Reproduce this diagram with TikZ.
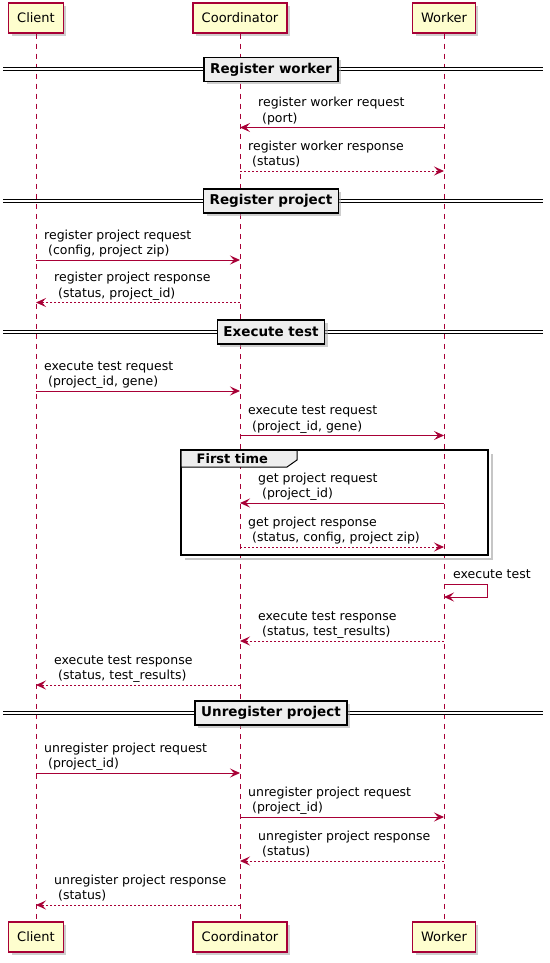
\documentclass[tikz,border=0pt]{standalone}
\usepackage{fontspec}
\setmainfont{DejaVu Sans}
\usetikzlibrary{arrows.meta, shadows}
\definecolor{umlred}{RGB}{168,0,54}
\definecolor{umlyellow}{RGB}{254,254,206}
\definecolor{umlgray}{RGB}{238,238,238}
\tikzset{
  softshadow/.style={drop shadow={shadow xshift=3pt, shadow yshift=-3pt,
    fill=black!35, opacity=0.55}},
  partbox/.style={rectangle, draw=umlred, fill=umlyellow, line width=1.5pt,
    minimum height=30pt, inner xsep=8.5pt, font=\fontsize{13}{15}\selectfont,
    softshadow},
  lifeline/.style={umlred, line width=1pt, dash pattern=on 5pt off 5pt},
  call/.style={-{Stealth[length=10pt, width=9pt, inset=4pt]}, umlred, line width=1pt},
  reply/.style={call, dash pattern=on 2pt off 2pt},
  msgtext/.style={anchor=base west, inner sep=0pt, align=left,
    font=\fontsize{12.5}{15.5}\selectfont},
  sepline/.style={draw=black, line width=1pt, double=white, double distance=2pt},
  sepbox/.style={rectangle, draw=black, fill=umlgray, line width=1.5pt,
    minimum height=24pt, inner xsep=6pt,
    font=\bfseries\fontsize{13.5}{15}\selectfont, softshadow},
  groupframe/.style={draw=black, line width=2pt},
  grouptab/.style={draw=black, fill=umlgray, line width=1pt},
  grouptitle/.style={anchor=base west, inner sep=0pt,
    font=\bfseries\fontsize{13}{15}\selectfont}
}
\begin{document}
\begin{tikzpicture}[x=1pt, y=-1pt]
  \useasboundingbox (0,0) rectangle (549,963);

  % participants
  \node[partbox] (cliT) at (36,18)  {Client};
  \node[partbox] (crdT) at (240,18) {Coordinator};
  \node[partbox] (wrkT) at (444,18) {Worker};
  \node[partbox] (cliB) at (36,937)  {Client};
  \node[partbox] (crdB) at (240,937) {Coordinator};
  \node[partbox] (wrkB) at (444,937) {Worker};
  \draw[lifeline] (cliT) -- (cliB);
  \draw[lifeline] (crdT) -- (crdB);
  \draw[lifeline] (wrkT) -- (wrkB);

  % message rows
  \coordinate (m1) at (0,127.5);
  \coordinate (m2) at (0,171);
  \coordinate (m3) at (0,260);
  \coordinate (m4) at (0,302.5);
  \coordinate (m5) at (0,391);
  \coordinate (m6) at (0,435.5);
  \coordinate (m7) at (0,503);
  \coordinate (m8) at (0,547);
  \coordinate (m9) at (0,584);
  \coordinate (m9b) at (0,597);
  \coordinate (m10) at (0,641);
  \coordinate (m11) at (0,685);
  \coordinate (m12) at (0,773);
  \coordinate (m13) at (0,817);
  \coordinate (m14) at (0,861);
  \coordinate (m15) at (0,905);

  % Register worker
  \draw[sepline] (3,69.5) -- (543,69.5);
  \node[sepbox] (secWorker) at (271,69.5) {Register worker\hspace{9pt}};
  \draw[call]  (wrkT |- m1) -- (crdT |- m1);
  \node[msgtext] (t1) at (258,122) {register worker request\\~(port)};
  \draw[reply] (crdT |- m2) -- (wrkT |- m2);
  \node[msgtext] (t2) at (248,165.5) {register worker response\\~(status)};

  % Register project
  \draw[sepline] (3,201) -- (543,201);
  \node[sepbox] (secProject) at (271,201) {Register project\hspace{9pt}};
  \draw[call]  (cliT |- m3) -- (crdT |- m3);
  \node[msgtext] (t3) at (44,254.5) {register project request\\~(config, project zip)};
  \draw[reply] (crdT |- m4) -- (cliT |- m4);
  \node[msgtext] (t4) at (54,297) {register project response\\~(status, project\_id)};

  % Execute test
  \draw[sepline] (3,332) -- (543,332);
  \node[sepbox] (secExec) at (271,332) {Execute test\hspace{9pt}};
  \draw[call]  (cliT |- m5) -- (crdT |- m5);
  \node[msgtext] (t5) at (44,385.5) {execute test request\\~(project\_id, gene)};
  \draw[call]  (crdT |- m6) -- (wrkT |- m6);
  \node[msgtext] (t6) at (248,430) {execute test request\\~(project\_id, gene)};

  % First time group
  \draw[gray!45, line width=2pt] (185,558.5) -- (491.5,558.5) -- (491.5,454);
  \draw[groupframe] (181,450) rectangle (488,555);
  \draw[grouptab] (181,450) -- (297,450) -- (297,460) -- (287,467) -- (181,467) -- cycle;
  \draw[groupframe] (181,450) -- (297,450);
  \node[grouptitle] (grp) at (196.5,463) {First time};
  \draw[call]  (wrkT |- m7) -- (crdT |- m7);
  \node[msgtext] (t7) at (258,497.5) {get project request\\~(project\_id)};
  \draw[reply] (crdT |- m8) -- (wrkT |- m8);
  \node[msgtext] (t8) at (248,541.5) {get project response\\~(status, config, project zip)};

  \draw[call]  (wrkT |- m9) -- ++(43,0) |- (wrkT |- m9b);
  \node[msgtext] (t9) at (453,578.5) {execute test};
  \draw[reply] (wrkT |- m10) -- (crdT |- m10);
  \node[msgtext] (t10) at (258,635.5) {execute test response\\~(status, test\_results)};
  \draw[reply] (crdT |- m11) -- (cliT |- m11);
  \node[msgtext] (t11) at (54,679.5) {execute test response\\~(status, test\_results)};

  % Unregister project
  \draw[sepline] (3,713) -- (543,713);
  \node[sepbox] (secUnreg) at (271,713) {Unregister project\hspace{9pt}};
  \draw[call]  (cliT |- m12) -- (crdT |- m12);
  \node[msgtext] (t12) at (44,767.5) {unregister project request\\~(project\_id)};
  \draw[call]  (crdT |- m13) -- (wrkT |- m13);
  \node[msgtext] (t13) at (248,811.5) {unregister project request\\~(project\_id)};
  \draw[reply] (wrkT |- m14) -- (crdT |- m14);
  \node[msgtext] (t14) at (258,855.5) {unregister project response\\~(status)};
  \draw[reply] (crdT |- m15) -- (cliT |- m15);
  \node[msgtext] (t15) at (54,899.5) {unregister project response\\~(status)};
\end{tikzpicture}
\end{document}
